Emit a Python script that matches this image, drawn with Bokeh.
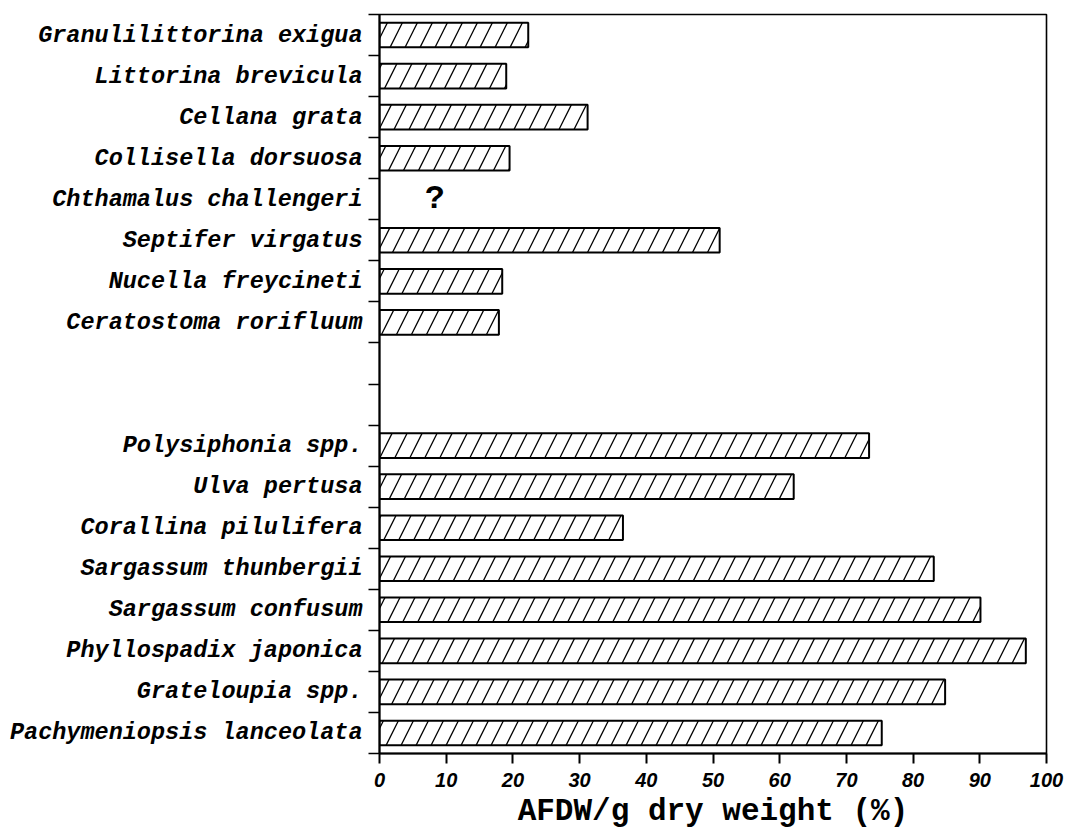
from bokeh.plotting import figure
from bokeh.models import FixedTicker, Range1d
from bokeh.core.properties import value
from bokeh.embed import file_html
from bokeh.resources import INLINE

# ---- data (top to bottom) ----
animals = ["Granulilittorina exigua", "Littorina brevicula", "Cellana grata",
           "Collisella dorsuosa", "Chthamalus challengeri", "Septifer virgatus",
           "Nucella freycineti", "Ceratostoma rorifluum"]
animal_values = [22.3, 19.0, 31.2, 19.5, None, 51.0, 18.4, 17.9]
blank_rows = 2
plants = ["Polysiphonia spp.", "Ulva pertusa", "Corallina pilulifera",
          "Sargassum thunbergii", "Sargassum confusum", "Phyllospadix japonica",
          "Grateloupia spp.", "Pachymeniopsis lanceolata"]
plant_values = [73.4, 62.1, 36.5, 83.1, 90.1, 96.9, 84.8, 75.3]
missing_mark = "?"
missing_mark_x = 8.3
x_ticks = [0, 10, 20, 30, 40, 50, 60, 70, 80, 90, 100]
x_label = "AFDW/g dry weight (%)"

# ---- build rows ----
names = animals + [None] * blank_rows + plants
vals = animal_values + [None] * blank_rows + plant_values
n = len(names)
centers = [n - i - 0.5 for i in range(n)]

bar_y = [c for c, v in zip(centers, vals) if v is not None]
bar_v = [v for v in vals if v is not None]
label_map = {c: nm for c, nm in zip(centers, names) if nm is not None}
miss_y = [c for c, nm, v in zip(centers, names, vals) if nm is not None and v is None]

p = figure(width=1066, height=836, output_backend="svg", toolbar_location=None,
           x_range=Range1d(0, 100), y_range=Range1d(0, n),
           min_border_left=379, min_border_right=20, min_border_top=14,
           min_border_bottom=83)
p.grid.visible = False
p.outline_line_color = "black"
p.outline_line_width = 1.6
p.background_fill_color = "white"
p.border_fill_color = "white"

p.hbar(y=bar_y, left=0, right=bar_v, height=0.6, fill_color="white",
       line_color="black", line_width=2, hatch_pattern="/", hatch_color="black",
       hatch_scale=30, hatch_weight=1.3)

p.text(x=[missing_mark_x] * len(miss_y), y=miss_y, text=[missing_mark] * len(miss_y),
       text_font=value("Liberation Mono"), text_font_style="bold",
       text_font_size="33px", text_align="center", text_baseline="middle",
       text_color="black")

# x axis
xa = p.xaxis[0]
xa.ticker = FixedTicker(ticks=x_ticks)
xa.axis_line_width = 2
xa.axis_line_color = "black"
xa.major_tick_out = 10
xa.major_tick_in = 0
xa.major_tick_line_width = 2
xa.major_tick_line_color = "black"
xa.minor_tick_line_color = None
xa.major_label_text_font = "Liberation Sans"
xa.major_label_text_font_style = "bold italic"
xa.major_label_text_font_size = "20px"
xa.major_label_text_color = "black"
xa.major_label_standoff = 9
xa.axis_label = x_label
xa.axis_label_text_font = "Liberation Mono"
xa.axis_label_text_font_style = "bold"
xa.axis_label_text_font_size = "31px"
xa.axis_label_text_color = "black"
xa.axis_label_standoff = 4

# y axis
ya = p.yaxis[0]
ya.ticker = FixedTicker(ticks=list(label_map.keys()), minor_ticks=list(range(n + 1)))
ya.major_label_overrides = label_map
ya.axis_line_width = 2
ya.axis_line_color = "black"
ya.major_tick_out = 0
ya.major_tick_in = 0
ya.minor_tick_out = 11
ya.minor_tick_in = 0
ya.minor_tick_line_width = 1.5
ya.minor_tick_line_color = "black"
ya.major_label_text_font = "Liberation Mono"
ya.major_label_text_font_style = "bold italic"
ya.major_label_text_font_size = "23.5px"
ya.major_label_text_color = "black"
ya.major_label_standoff = 6

open("out.html", "w").write(file_html(p, INLINE))
